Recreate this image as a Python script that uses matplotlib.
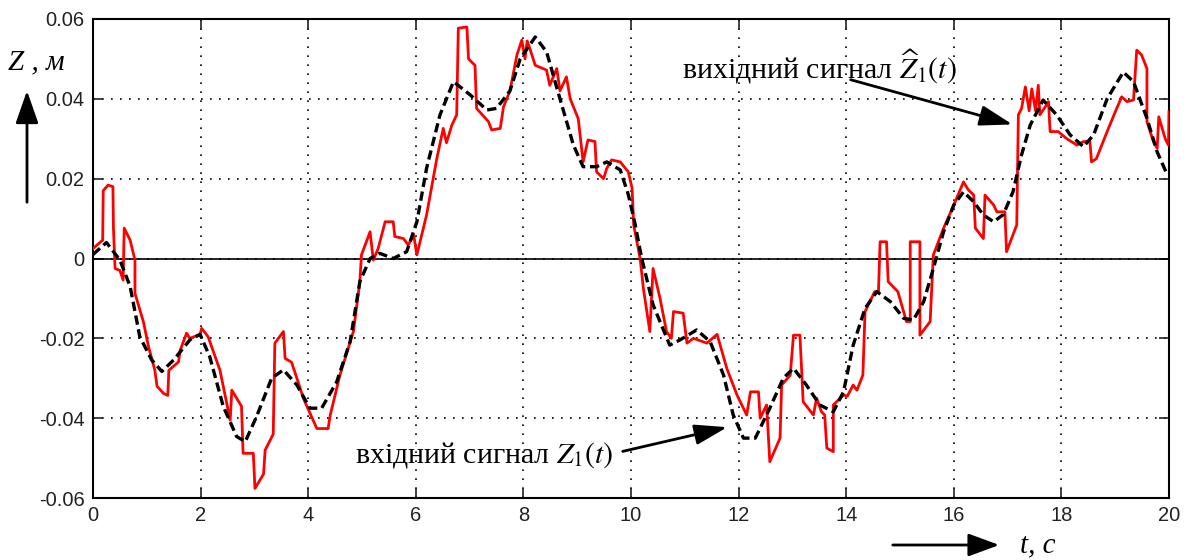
import matplotlib
matplotlib.use("Agg")
import matplotlib.pyplot as plt

# input signal Z1(t) (black dashed)
t_in = [0, 0.25, 0.5, 0.69, 0.87, 1.09, 1.28, 1.5, 1.8, 1.99, 2.17, 2.42, 2.67, 2.83,
        3.04, 3.32, 3.54, 3.79, 4.03, 4.25, 4.53, 4.78, 4.96, 5.15, 5.33, 5.58, 5.83,
        6.02, 6.2, 6.45, 6.7, 7.01, 7.32, 7.5, 7.75, 7.94, 8.22, 8.43, 8.68, 8.93, 9.11,
        9.36, 9.55, 9.8, 9.95, 10.07, 10.2, 10.41, 10.72, 10.91, 11.22, 11.47, 11.72,
        11.9, 12.09, 12.31, 12.58, 12.83, 13.02, 13.26, 13.51, 13.76, 13.95, 14.13,
        14.35, 14.57, 14.82, 15.07, 15.25, 15.44, 15.62, 15.81, 16.0, 16.18, 16.37,
        16.55, 16.74, 16.92, 17.1, 17.26, 17.42, 17.66, 17.91, 18.16, 18.41, 18.6,
        18.85, 19.15, 19.34, 19.59, 19.78, 19.97]
z_in = [0.001, 0.004, -0.0004, -0.007, -0.0196, -0.0254, -0.0283, -0.0254, -0.0204,
        -0.019, -0.0246, -0.037, -0.0446, -0.0459, -0.0396, -0.030, -0.0279, -0.0317,
        -0.0375, -0.0375, -0.0309, -0.0208, -0.0058, 0.0, 0.0013, 0.0, 0.0017, 0.0092,
        0.0226, 0.036, 0.0443, 0.041, 0.0372, 0.0376, 0.042, 0.050, 0.0555, 0.0518,
        0.040, 0.0284, 0.023, 0.023, 0.0242, 0.0222, 0.016, 0.009, 0.0, -0.0116,
        -0.0217, -0.0204, -0.0179, -0.0208, -0.0292, -0.0392, -0.045, -0.045, -0.0375,
        -0.030, -0.0275, -0.0317, -0.0367, -0.0384, -0.0334, -0.0217, -0.0125, -0.0083,
        -0.0108, -0.015, -0.0154, -0.0108, -0.0025, 0.0067, 0.0134, 0.0167, 0.0142,
        0.0109, 0.0092, 0.011, 0.0167, 0.026, 0.0334, 0.0397, 0.036, 0.031, 0.028,
        0.031, 0.040, 0.0467, 0.0443, 0.0351, 0.0267, 0.0209]

# output signal Z1^(t) (red)
t_out = [0, 0.18, 0.19, 0.28, 0.37, 0.38, 0.41, 0.5, 0.56, 0.58, 0.69, 0.78, 0.78, 0.94,
         1.03, 1.15, 1.19, 1.31, 1.39, 1.41, 1.59, 1.62, 1.74, 1.8, 1.99, 2.02, 2.14,
         2.36, 2.55, 2.58, 2.76, 2.79, 2.98, 3.01, 3.17, 3.2, 3.35, 3.38, 3.54, 3.57,
         3.69, 3.79, 3.91, 4.16, 4.37, 4.41, 4.59, 4.84, 4.96, 4.99, 5.15, 5.21, 5.3,
         5.43, 5.58, 5.61, 5.77, 5.86, 5.96, 6.02, 6.2, 6.39, 6.51, 6.57, 6.67, 6.76,
         6.79, 6.95, 6.98, 7.1, 7.13, 7.35, 7.41, 7.57, 7.63, 7.75, 7.88, 7.97, 8.03,
         8.07, 8.12, 8.22, 8.43, 8.49, 8.62, 8.68, 8.8, 8.87, 9.02, 9.11, 9.2, 9.33,
         9.36, 9.49, 9.55, 9.64, 9.8, 9.95, 10.02, 10.05, 10.17, 10.23, 10.35, 10.41,
         10.54, 10.66, 10.75, 10.79, 10.97, 11.04, 11.16, 11.41, 11.6, 11.78, 11.97,
         12.15, 12.22, 12.37, 12.4, 12.52, 12.58, 12.77, 12.8, 12.96, 13.02, 13.14,
         13.2, 13.39, 13.45, 13.54, 13.6, 13.64, 13.76, 13.76, 13.95, 14.02, 14.13,
         14.2, 14.31, 14.35, 14.53, 14.6, 14.63, 14.75, 14.78, 14.96, 15.12, 15.19,
         15.19, 15.37, 15.37, 15.56, 15.62, 15.81, 16.0, 16.18, 16.27, 16.37, 16.4,
         16.55, 16.58, 16.74, 16.8, 16.95, 16.98, 17.1, 17.17, 17.2, 17.26, 17.33, 17.4,
         17.45, 17.52, 17.57, 17.6, 17.7, 17.76, 17.79, 17.94, 18.1, 18.29, 18.41,
         18.53, 18.56, 18.65, 18.85, 19.0, 19.12, 19.22, 19.34, 19.4, 19.49, 19.59,
         19.59, 19.71, 19.78, 19.81, 19.93, 19.99, 20.0]
z_out = [0.0025, 0.0046, 0.017, 0.0184, 0.018, 0.0076, -0.0025, -0.003, -0.0054, 0.0076,
         0.0046, -0.0004, -0.0087, -0.016, -0.022, -0.028, -0.032, -0.0338, -0.0343,
         -0.028, -0.0259, -0.023, -0.0187, -0.020, -0.019, -0.0175, -0.0196, -0.028,
         -0.0405, -0.033, -0.037, -0.0488, -0.0488, -0.0576, -0.054, -0.048, -0.044,
         -0.0212, -0.0183, -0.025, -0.026, -0.030, -0.035, -0.0426, -0.0426, -0.0392,
         -0.0292, -0.0183, -0.0058, 0.0009, 0.0067, -0.0004, 0.0025, 0.0092, 0.0092,
         0.0055, 0.005, 0.0034, 0.0059, 0.0009, 0.0109, 0.025, 0.0326, 0.029, 0.0334,
         0.036, 0.0577, 0.058, 0.050, 0.0484, 0.0376, 0.0343, 0.0322, 0.0326, 0.038,
         0.042, 0.051, 0.0547, 0.050, 0.0545, 0.0526, 0.0484, 0.0472, 0.0434, 0.0476,
         0.042, 0.0455, 0.040, 0.035, 0.0242, 0.0297, 0.0293, 0.0217, 0.020, 0.0226,
         0.0247, 0.0242, 0.0217, 0.0176, 0.0084, 0.0, -0.0075, -0.0183, -0.0025, -0.010,
         -0.0183, -0.020, -0.0133, -0.0137, -0.0212, -0.020, -0.0212, -0.019, -0.0275,
         -0.0342, -0.0392, -0.0334, -0.0334, -0.040, -0.0367, -0.0509, -0.045, -0.0317,
         -0.0292, -0.0192, -0.0192, -0.0359, -0.0392, -0.035, -0.0384, -0.0392, -0.0475,
         -0.0484, -0.0367, -0.0342, -0.0345, -0.0317, -0.0330, -0.0292, -0.0133,
         -0.0083, -0.0083, 0.0042, 0.0042, -0.0058, -0.0083, -0.0158, -0.0158, 0.0042,
         0.0042, -0.0192, -0.0158, 0.0009, 0.0076, 0.0134, 0.0192, 0.0172, 0.0159,
         0.0076, 0.005, 0.0159, 0.0134, 0.0117, 0.0117, 0.0017, 0.0059, 0.0084, 0.036,
         0.0376, 0.043, 0.037, 0.0425, 0.037, 0.0434, 0.036, 0.038, 0.0393, 0.0318,
         0.0318, 0.030, 0.0284, 0.0293, 0.0293, 0.0242, 0.025, 0.0318, 0.0367, 0.0405,
         0.0393, 0.0397, 0.0522, 0.051, 0.0476, 0.0343, 0.0293, 0.0276, 0.0355, 0.030,
         0.0284, 0.0368]

x_ticks = [0, 2, 4, 6, 8, 10, 12, 14, 16, 18, 20]
y_ticks = [-0.06, -0.04, -0.02, 0, 0.02, 0.04, 0.06]
y_tick_labels = ["-0.06", "-0.04", "-0.02", "0", "0.02", "0.04", "0.06"]

plt.rcParams["mathtext.fontset"] = "stix"

fig = plt.figure(figsize=(11.89, 5.6), dpi=100)
ax = fig.add_axes([93 / 1189, 1 - 498 / 560, 1076 / 1189, 479 / 560])

ax.plot(t_out, z_out, color="#ff0000", lw=2.0, zorder=3)
ax.plot(t_in, z_in, color="black", lw=2.4, ls=(0, (2.8, 1.4)), zorder=4)
ax.axhline(0, color="black", lw=1.2, zorder=2)

ax.set_xlim(0, 20)
ax.set_ylim(-0.06, 0.06)
ax.set_xticks(x_ticks)
ax.set_xticklabels([str(v) for v in x_ticks])
ax.set_yticks(y_ticks)
ax.set_yticklabels(y_tick_labels)
ax.grid(True, color="black", ls=(0, (1, 4.4)), lw=1.2)
ax.tick_params(direction="in", length=7, width=1.2, top=True, right=True,
               labelsize=14.5, colors="#222222", pad=6)
for lab in ax.get_xticklabels() + ax.get_yticklabels():
    lab.set_family("Liberation Sans")
for sp in ax.spines.values():
    sp.set_linewidth(1.5)

serif = ["Liberation Serif", "DejaVu Serif"]

# axis labels with arrows (figure pixel coordinates, y from bottom)
fig.text(36, 560 - 62, "Z , м", fontsize=21, style="italic", family=serif,
         ha="center", va="center", transform=None)
ax.annotate("", xy=(27, 560 - 88), xytext=(27, 560 - 205), xycoords="figure pixels",
            textcoords="figure pixels",
            arrowprops=dict(arrowstyle="-|>,head_length=1.0,head_width=0.35",
                            mutation_scale=20, lw=2, color="black"))
ax.annotate("", xy=(1002, 560 - 545), xytext=(890, 560 - 545), xycoords="figure pixels",
            textcoords="figure pixels",
            arrowprops=dict(arrowstyle="-|>,head_length=0.95,head_width=0.35",
                            mutation_scale=20, lw=2, color="black"))
fig.text(1020, 560 - 545, "t, с", fontsize=21, style="italic", family=serif,
         ha="left", va="center", transform=None)

# signal annotations
ax.annotate(r"вихідний сигнал $\widehat{Z}_1(t)$", xy=(17.14, 0.0334),
            xytext=(682, 560 - 78), textcoords="figure pixels",
            fontsize=21.5, family=serif, ha="left", va="baseline")
ax.annotate("", xy=(17.14, 0.0334), xytext=(848, 560 - 79), textcoords="figure pixels",
            arrowprops=dict(arrowstyle="-|>,head_length=0.8,head_width=0.25",
                            mutation_scale=25, lw=2, color="black"))
ax.annotate(r"вхідний сигнал $Z_1(t)$", xy=(11.84, -0.0421),
            xytext=(355, 560 - 462), textcoords="figure pixels",
            fontsize=21.5, family=serif, ha="left", va="baseline")
ax.annotate("", xy=(11.84, -0.0421), xytext=(620, 560 - 452), textcoords="figure pixels",
            arrowprops=dict(arrowstyle="-|>,head_length=0.8,head_width=0.25",
                            mutation_scale=25, lw=2, color="black"))

fig.savefig("out.png", dpi=100)
